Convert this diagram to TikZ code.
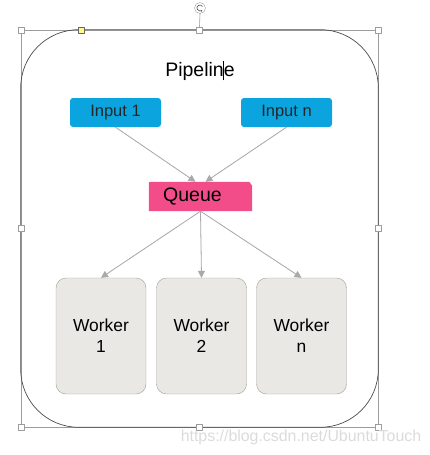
\documentclass[tikz,border=0pt]{standalone}
\usepackage{fontspec}
\setmainfont{Liberation Sans}
\usetikzlibrary{arrows.meta}
\definecolor{inblue}{HTML}{0BA4DE}
\definecolor{qpink}{HTML}{F24D88}
\definecolor{wfill}{HTML}{E9E8E4}
\definecolor{wline}{HTML}{A29E96}
\definecolor{arrgray}{HTML}{A9A9A9}
\definecolor{selgray}{HTML}{9C9C9C}
\begin{document}
\begin{tikzpicture}[x=1pt,y=-1pt,>={Triangle[length=7pt,width=7pt]}, line join=round, line cap=round]
	\def\inw{91} \def\inh{29} % Input
	\def\ww{90} \def\wh{116} % Worker
	\tikzset{
		inbox/.style={fill=inblue, rounded corners=3pt, minimum width=\inw pt, minimum height=\inh pt, inner sep=0pt, font=\fontsize{16.5}{19}\selectfont, text=black!85},
		workerbox/.style={draw=wline, fill=wfill, rounded corners=10pt, minimum width=\ww pt, minimum height=\wh pt, inner sep=0pt, align=center, font=\fontsize{17.4}{21}\selectfont},
		handle/.style={draw=selgray, fill=white, minimum size=6pt, inner sep=0pt},
		arrline/.style={->, draw=arrgray, fill=arrgray, line width=0.8pt}
	}
	\useasboundingbox (0,0) rectangle (430,455);
	%\draw[color=gray!50,dashed] (0,0) grid[step=50] (430,455);
	% selection frame and outer box
	\node[draw=selgray, line width=0.6pt, minimum width=357pt, minimum height=397pt, inner sep=0pt] (frame) at (199.5,228.5) {};
	\draw[black!70, line width=0.7pt, rounded corners=58pt] (frame.south west) rectangle (frame.north east);
	\foreach \a in {north west,north,north east,west,east,south west,south,south east}
		\node[handle] (h-\a) at (frame.\a) {};
	\node[draw=black!60, fill=yellow!45, minimum size=6pt, inner sep=0pt] (adj) at (81,30) {};
	\node[draw=selgray, fill=white, circle, minimum size=11pt, inner sep=0pt] (rot) at (200,8) {};
	\draw[black!70, line width=0.6pt, -{Stealth[length=2pt]}] ([xshift=2.5pt,yshift=1.5pt]rot.center) arc[start angle=30, end angle=320, radius=3pt];
	\draw[selgray, line width=0.6pt] (rot.south) -- (h-north.north);
	% title
	\node[font=\fontsize{19.5}{22}\selectfont] (title) at (200,71) {Pipelin\makebox[0pt]{\rule[-4pt]{0.8pt}{19pt}}e};
	% inputs and queue
	\node[inbox] (in1) at (115.5,112.5) {Input 1};
	\node[inbox] (inn) at (286.5,112.5) {Input n};
	\node[minimum width=103pt, minimum height=29pt, inner sep=0pt] (queue) at (200.5,196.5) {};
	\fill[qpink] (queue.south west) -- ([yshift=-1pt]queue.north west) -- ([xshift=1pt]queue.north west) -- ([xshift=-3pt]queue.north east) -- ([yshift=-4pt]queue.north east) -- (queue.south east) -- cycle;
	\node[font=\fontsize{19.5}{22}\selectfont] (qtext) at ([xshift=-8pt]queue.center) {Queue};
	\draw[arrline] (in1.south) -- ([xshift=-5pt]queue.north);
	\draw[arrline] (inn.south) -- ([xshift=5pt]queue.north);
	% workers
	\foreach \i/\t/\xx in {1/1/101, 2/2/201.5, 3/n/301.5}{
		\node[workerbox] (w\i) at (\xx,336) {Worker\\\t};
		\draw[arrline] (queue.south) -- (w\i.north);
	}
	\node[text=black!14, font=\fontsize{15.9}{18}\selectfont] (mark) at (301,437) {https://blog.csdn.net/UbuntuTouch};
\end{tikzpicture}
\end{document}
